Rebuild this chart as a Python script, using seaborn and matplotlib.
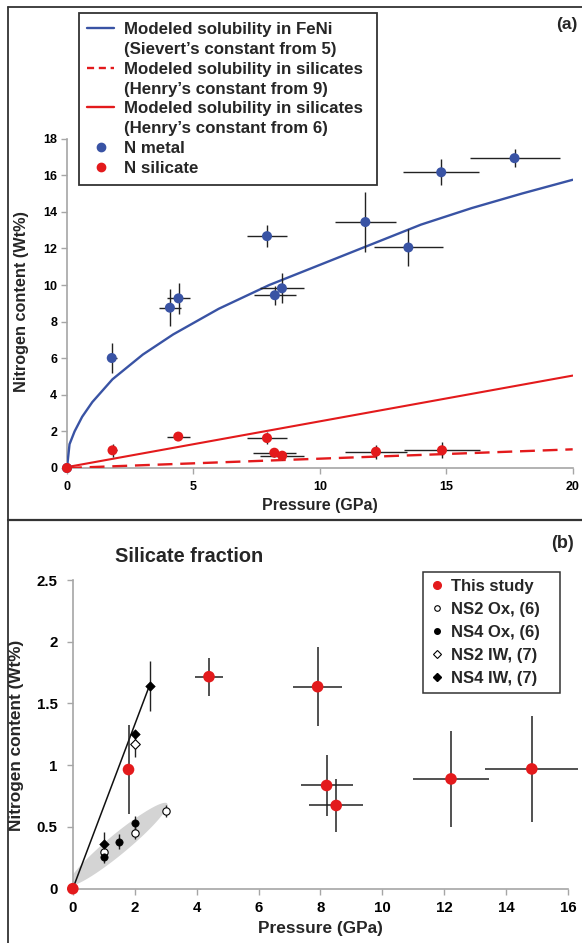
import numpy as np
import pandas as pd
import matplotlib
matplotlib.use("Agg")
import matplotlib.pyplot as plt
import seaborn as sns
from matplotlib.lines import Line2D
from matplotlib.patches import Polygon

sns.set_theme(style="ticks")
plt.rcParams['font.family'] = ['Liberation Sans', 'DejaVu Sans']
plt.rcParams['font.weight'] = 'bold'
plt.rcParams['axes.labelweight'] = 'bold'

# ---------------- Panel (a) data ----------------
metal_p = [0, 1.77, 4.07, 4.41, 7.91, 8.22, 8.50, 11.8, 13.5, 14.8, 17.7]
metal_n = [0, 6.01, 8.76, 9.27, 12.67, 9.44, 9.82, 13.44, 12.05, 16.16, 16.93]
metal_perr = [0, 0.20, 0.42, 0.44, 0.80, 0.83, 0.87, 1.20, 1.37, 1.50, 1.78]
metal_nerr = [0, 0.84, 1.00, 0.85, 0.59, 0.53, 0.83, 1.65, 1.02, 0.70, 0.50]

sil_p = [0, 1.80, 4.40, 7.91, 8.20, 8.51, 12.22, 14.83]
sil_n = [0, 0.965, 1.717, 1.636, 0.836, 0.674, 0.889, 0.970]
sil_perr = [0, 0.19, 0.46, 0.79, 0.84, 0.87, 1.235, 1.50]
sil_nerr = [0, 0.357, 0.155, 0.320, 0.245, 0.218, 0.388, 0.430]

feni_p = [0, 0.1, 0.3, 0.6, 1.0, 1.8, 3.0, 4.2, 6.0, 8.0, 10, 12, 14, 16, 18, 20]
feni_n = [0, 1.3, 2.0, 2.8, 3.6, 4.85, 6.2, 7.3, 8.7, 10.0, 11.1, 12.2, 13.3, 14.2, 15.0, 15.75]
henry6_p = [0, 20]
henry6_n = [0.05, 5.05]
henry9_p = [0, 20]
henry9_n = [0.0, 1.02]

xticks_a = [0, 5, 10, 15, 20]
yticks_a = [0, 2, 4, 6, 8, 10, 12, 14, 16, 18]

# ---------------- Panel (b) data ----------------
ns2ox_p = [1.0, 2.0, 3.0]
ns2ox_n = [0.30, 0.45, 0.63]
ns2ox_err = [0.04, 0.05, 0.05]
ns4ox_p = [1.0, 1.5, 2.0]
ns4ox_n = [0.26, 0.38, 0.53]
ns4ox_err = [0.05, 0.06, 0.06]
ns2iw_p = [2.0]
ns2iw_n = [1.17]
ns2iw_err = [0.10]
ns4iw_p = [1.0, 2.0, 2.5]
ns4iw_n = [0.36, 1.25, 1.64]
ns4iw_err = [0.10, 0.03, 0.20]
iwline_p = [0, 2.5]
iwline_n = [0, 1.66]
# grey band (ellipse) end points in data units
band_start = (-0.13, 0.03)
band_end = (3.05, 0.69)

xticks_b = [0, 2, 4, 6, 8, 10, 12, 14, 16]
yticks_b = [0, 0.5, 1, 1.5, 2, 2.5]
yticklabels_b = ["0", "0.5", "1", "1.5", "2", "2.5"]

BLUE = "#3953a4"
RED = "#e31a1c"
GREY = "#a6a6a6"

W, H = 582, 943
fig = plt.figure(figsize=(W / 100, H / 100), dpi=100)

def fx(px):
    return px / W

def fy(py):
    return 1 - py / H

# frame lines
fig.add_artist(Line2D([fx(7.5), fx(7.5)], [fy(6.5), 0], color="#333333", lw=1.3))
fig.add_artist(Line2D([fx(7.5), 1], [fy(6.5), fy(6.5)], color="#333333", lw=1.3))
fig.add_artist(Line2D([fx(7.5), 1], [fy(520), fy(520)], color="#333333", lw=1.6))

# ================= Panel (a) =================
axa = fig.add_axes([fx(67), fy(468), fx(572.7) - fx(67), fy(138.6) - fy(468)])
axa.set_xlim(0, 20)
axa.set_ylim(0, 18)

sns.lineplot(x=feni_p, y=feni_n, ax=axa, color=BLUE, lw=1.7, sort=False, zorder=3)
sns.lineplot(x=henry6_p, y=henry6_n, ax=axa, color=RED, lw=1.5, zorder=3)
axa.plot(henry9_p, henry9_n, color=RED, lw=1.7, ls=(0, (6.3, 3.3)), zorder=3)

axa.errorbar(metal_p, metal_n, xerr=metal_perr, yerr=metal_nerr, fmt="none",
             ecolor="#222222", elinewidth=1.0, capsize=0, zorder=4, clip_on=False)
axa.errorbar(sil_p, sil_n, xerr=sil_perr, yerr=sil_nerr, fmt="none",
             ecolor="#222222", elinewidth=1.0, capsize=0, zorder=4, clip_on=False)
sns.scatterplot(x=metal_p, y=metal_n, ax=axa, color=BLUE, s=52, edgecolor="none",
                zorder=5, clip_on=False)
sns.scatterplot(x=sil_p, y=sil_n, ax=axa, color=RED, s=52, edgecolor="none",
                zorder=5, clip_on=False)

axa.set_xticks(xticks_a)
axa.set_yticks(yticks_a)
axa.set_xticklabels([str(v) for v in xticks_a])
axa.set_yticklabels([str(v) for v in yticks_a])
for s in ["top", "right"]:
    axa.spines[s].set_visible(False)
for s in ["left", "bottom"]:
    axa.spines[s].set_color(GREY)
    axa.spines[s].set_linewidth(1.2)
axa.tick_params(axis="both", colors=GREY, labelcolor="black", length=4, width=1.0,
                labelsize=9)
axa.tick_params(axis="x", pad=5)
axa.tick_params(axis="y", pad=3)
for lab in axa.get_xticklabels() + axa.get_yticklabels():
    lab.set_fontweight("bold")
axa.set_xlabel("Pressure (GPa)", fontsize=11.5, fontweight="bold", labelpad=4)
axa.set_ylabel("Nitrogen content (Wt%)", fontsize=11.7, fontweight="bold")
axa.yaxis.set_label_coords((29 - 67) / 505.7, (468 - 302) / 329.4)

blank = Line2D([], [], color="none")
handles_a = [
    Line2D([], [], color=BLUE, lw=1.7), blank,
    Line2D([], [], color=RED, lw=1.7, ls=(0, (3, 2))), blank,
    Line2D([], [], color=RED, lw=1.7), blank,
    Line2D([], [], color=BLUE, marker="o", ls="none", ms=6),
    Line2D([], [], color=RED, marker="o", ls="none", ms=6),
]
labels_a = [
    "Modeled solubility in FeNi", "(Sievert\u2019s constant from 5)",
    "Modeled solubility in silicates", "(Henry\u2019s constant from 9)",
    "Modeled solubility in silicates", "(Henry\u2019s constant from 6)",
    "N metal", "N silicate",
]
lega = axa.legend(handles_a, labels_a, loc="upper left", mode="expand",
                  bbox_to_anchor=(fx(79), fy(182), fx(377) - fx(79), fy(13.3) - fy(182)),
                  bbox_transform=fig.transFigure,
                  borderaxespad=0, frameon=True, fancybox=False, framealpha=1,
                  edgecolor="#333333", fontsize=12.2, labelspacing=0.29,
                  handlelength=1.55, handletextpad=0.6, borderpad=0.5)
lega.get_frame().set_linewidth(1.3)
for t in lega.get_texts():
    t.set_fontweight("bold")

fig.text(fx(567), fy(25), "(a)", ha="center", va="center", fontsize=12.5,
         fontweight="bold")

# ================= Panel (b) =================
axb = fig.add_axes([fx(72.8), fy(888.7), fx(568) - fx(72.8), fy(580) - fy(888.7)])
axb.set_xlim(0, 16)
axb.set_ylim(0, 2.5)

# grey band built in display space from the two end points
fig.canvas.draw()
p0 = axb.transData.transform(band_start)
p1 = axb.transData.transform(band_end)
c = (p0 + p1) / 2
u = (p1 - p0) / 2
v = np.array([-u[1], u[0]]) / np.hypot(*u) * 10
t = np.linspace(0, 2 * np.pi, 100)
pts = c + np.outer(np.cos(t), u) + np.outer(np.sin(t), v)
band = Polygon(axb.transData.inverted().transform(pts), closed=True,
               facecolor="#d4d4d4", edgecolor="none", zorder=1)
axb.add_patch(band)

axb.plot(iwline_p, iwline_n, color="#111111", lw=1.1, zorder=2)

axb.errorbar(sil_p, sil_n, xerr=sil_perr, yerr=sil_nerr, fmt="none",
             ecolor="#222222", elinewidth=1.1, capsize=0, zorder=3, clip_on=False)
for px_, ny_, er_ in [(ns2ox_p, ns2ox_n, ns2ox_err), (ns4ox_p, ns4ox_n, ns4ox_err),
                      (ns2iw_p, ns2iw_n, ns2iw_err), (ns4iw_p, ns4iw_n, ns4iw_err)]:
    axb.errorbar(px_, ny_, yerr=er_, fmt="none", ecolor="#222222",
                 elinewidth=1.0, capsize=0, zorder=3)

sns.scatterplot(x=ns2ox_p, y=ns2ox_n, ax=axb, marker="o", s=28, facecolor="white",
                edgecolor="black", linewidth=0.8, zorder=4)
sns.scatterplot(x=ns4ox_p, y=ns4ox_n, ax=axb, marker="o", s=28, color="black",
                edgecolor="black", zorder=4)
sns.scatterplot(x=ns2iw_p, y=ns2iw_n, ax=axb, marker="D", s=24, facecolor="white",
                edgecolor="black", linewidth=0.8, zorder=4)
sns.scatterplot(x=ns4iw_p, y=ns4iw_n, ax=axb, marker="D", s=24, color="black",
                edgecolor="black", zorder=4)
sns.scatterplot(x=sil_p, y=sil_n, ax=axb, color=RED, s=70, edgecolor="none",
                zorder=5, clip_on=False)

axb.set_xticks(xticks_b)
axb.set_yticks(yticks_b)
axb.set_xticklabels([str(v) for v in xticks_b])
axb.set_yticklabels(yticklabels_b)
for s in ["top", "right"]:
    axb.spines[s].set_visible(False)
for s in ["left", "bottom"]:
    axb.spines[s].set_color(GREY)
    axb.spines[s].set_linewidth(1.2)
axb.tick_params(axis="both", colors=GREY, labelcolor="black", length=4, width=1.0,
                labelsize=10.8)
axb.tick_params(axis="x", pad=5)
axb.tick_params(axis="y", pad=7)
for lab in axb.get_xticklabels() + axb.get_yticklabels():
    lab.set_fontweight("bold")
axb.set_xlabel("Pressure (GPa)", fontsize=12.4, fontweight="bold", labelpad=4)
axb.set_ylabel("Nitrogen content (Wt%)", fontsize=12.4, fontweight="bold")
axb.yaxis.set_label_coords((24 - 72.8) / 495.2, (888.7 - 735) / 308.7)

handles_b = [
    Line2D([], [], color=RED, marker="o", ls="none", ms=5.5),
    Line2D([], [], marker="o", ls="none", ms=4, mfc="white", mec="black", mew=0.8),
    Line2D([], [], marker="o", ls="none", ms=4, color="black"),
    Line2D([], [], marker="D", ls="none", ms=4, mfc="white", mec="black", mew=0.8),
    Line2D([], [], marker="D", ls="none", ms=4, color="black"),
]
labels_b = ["This study", "NS2 Ox, (6)", "NS4 Ox, (6)", "NS2 IW, (7)", "NS4 IW, (7)"]
legb = axb.legend(handles_b, labels_b, loc="upper left", mode="expand",
                  bbox_to_anchor=(fx(423), fy(694), fx(560) - fx(423), fy(571.7) - fy(694)),
                  bbox_transform=fig.transFigure,
                  borderaxespad=0, frameon=True, fancybox=False, framealpha=1,
                  edgecolor="#333333", fontsize=12, labelspacing=0.47,
                  handlelength=0.8, handletextpad=0.45, borderpad=0.45)
legb.get_frame().set_linewidth(1.1)
for t in legb.get_texts():
    t.set_fontweight("bold")

fig.text(fx(115), fy(556), "Silicate fraction", ha="left", va="center",
         fontsize=14.3, fontweight="bold")
fig.text(fx(562), fy(543), "(b)", ha="center", va="center", fontsize=13,
         fontweight="bold")

fig.savefig("out.png", dpi=100)
